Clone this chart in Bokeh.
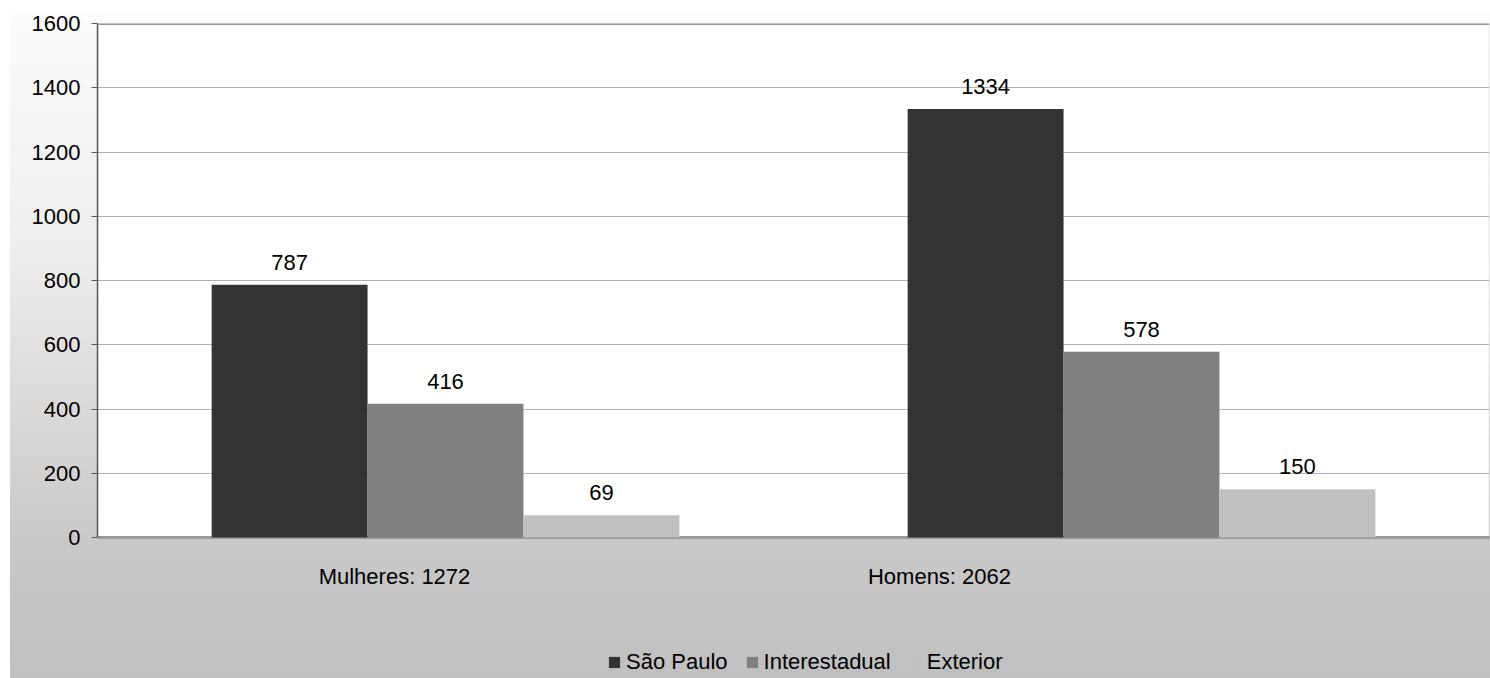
from bokeh.plotting import figure
from bokeh.models import (ColumnDataSource, FactorRange, Range1d, FixedTicker, Span,
                          LabelSet, Legend, LegendItem, BoxAnnotation)
from bokeh.core.properties import value
from bokeh.transform import dodge
from bokeh.embed import file_html
from bokeh.resources import INLINE

# ---- data ----
categories = ["Mulheres: 1272", "Homens: 2062"]
series = ["São Paulo", "Interestadual", "Exterior"]
sao_paulo = [787, 1334]
interestadual = [416, 578]
exterior = [69, 150]
y_ticks = [0, 200, 400, 600, 800, 1000, 1200, 1400, 1600]

# ---- styles ----
colors = ["#333333", "#808080", "#c0c0c0"]
offsets = [-0.224, 0.0, 0.224]
bar_width = 0.224
cat_label_dx = [-51, -202]
FONT = "Liberation Sans"
FS = "22px"

W, H = 1490, 678
LEFT, TOP, RIGHT = 97, 23, 1
PLOT_BOTTOM = 537                      # pixel row of the value-axis zero line
below_px = H - PLOT_BOTTOM
plot_px = PLOT_BOTTOM - TOP
y_max = y_ticks[-1]
y_min = -y_max * below_px / plot_px    # room below zero for category labels + legend

cols = ["sp", "inter", "ext"]
src = ColumnDataSource(dict(
    cat=categories,
    sp=sao_paulo, inter=interestadual, ext=exterior,
    sp_t=[str(v) for v in sao_paulo],
    inter_t=[str(v) for v in interestadual],
    ext_t=[str(v) for v in exterior],
    y0=[0] * len(categories),
    dx=cat_label_dx,
))

p = figure(
    x_range=FactorRange(factors=categories, range_padding=0),
    y_range=Range1d(y_min, y_max),
    width=W, height=H,
    output_backend="svg", toolbar_location=None,
    min_border_left=LEFT, min_border_right=RIGHT, min_border_top=TOP, min_border_bottom=0,
    background_fill_color=None,
    border_fill_color=None,
    outline_line_color=None,
    styles={"background": "linear-gradient(to bottom, #fcfcfc 0%, #ededed 36%, #c9c9c9 79%, #c0c0c0 100%) "
                          "10px 12px / 1480px 666px no-repeat #ffffff"},
)

# white plot area (from 0 to max), under the grid
p.add_layout(BoxAnnotation(bottom=0, top=y_max, fill_color="white", fill_alpha=1,
                           line_color="#b3b3b3", line_width=2, level="image"))

p.xaxis.visible = False
p.xgrid.visible = False
p.ygrid.grid_line_color = "#b0b0b0"
p.ygrid.grid_line_width = 1

ya = p.yaxis[0]
ya.ticker = FixedTicker(ticks=y_ticks)
ya.bounds = (0, y_max)
ya.axis_line_color = "#595959"
ya.axis_line_width = 1.5
ya.major_tick_line_color = "#595959"
ya.major_tick_out = 6
ya.major_tick_in = 0
ya.minor_tick_line_color = None
ya.major_label_standoff = 11
ya.major_label_text_font = FONT
ya.major_label_text_font_size = FS
ya.major_label_text_color = "black"

p.add_layout(Span(location=y_max, dimension="width", line_color="#999999", line_width=3))
p.add_layout(Span(location=0, dimension="width", line_color="#999999", line_width=3, level="underlay"))

items = []
for col, name, color, off in zip(cols, series, colors, offsets):
    r = p.vbar(x=dodge("cat", off, range=p.x_range), top=col, width=bar_width, source=src,
               fill_color=color, line_color=None)
    items.append(LegendItem(label=name, renderers=[r]))
    p.add_layout(LabelSet(x=dodge("cat", off, range=p.x_range), y=col, text=col + "_t", source=src,
                          text_align="center", text_baseline="alphabetic", y_offset=15,
                          text_font=value(FONT), text_font_size=value(FS), text_color="black"))

p.add_layout(LabelSet(x="cat", y="y0", text="cat", source=src, x_offset="dx", y_offset=-46,
                      text_align="center", text_baseline="alphabetic",
                      text_font=value(FONT), text_font_size=value(FS), text_color="black"))

legend = Legend(items=items, orientation="horizontal", location=(510, 3),
                background_fill_alpha=0, border_line_color=None,
                padding=0, margin=0, spacing=17, label_standoff=5,
                glyph_width=14, glyph_height=14,
                label_text_font=FONT, label_text_font_size=FS, label_text_color="black")
p.add_layout(legend, "center")

open("out.html", "w").write(file_html(p, INLINE))
